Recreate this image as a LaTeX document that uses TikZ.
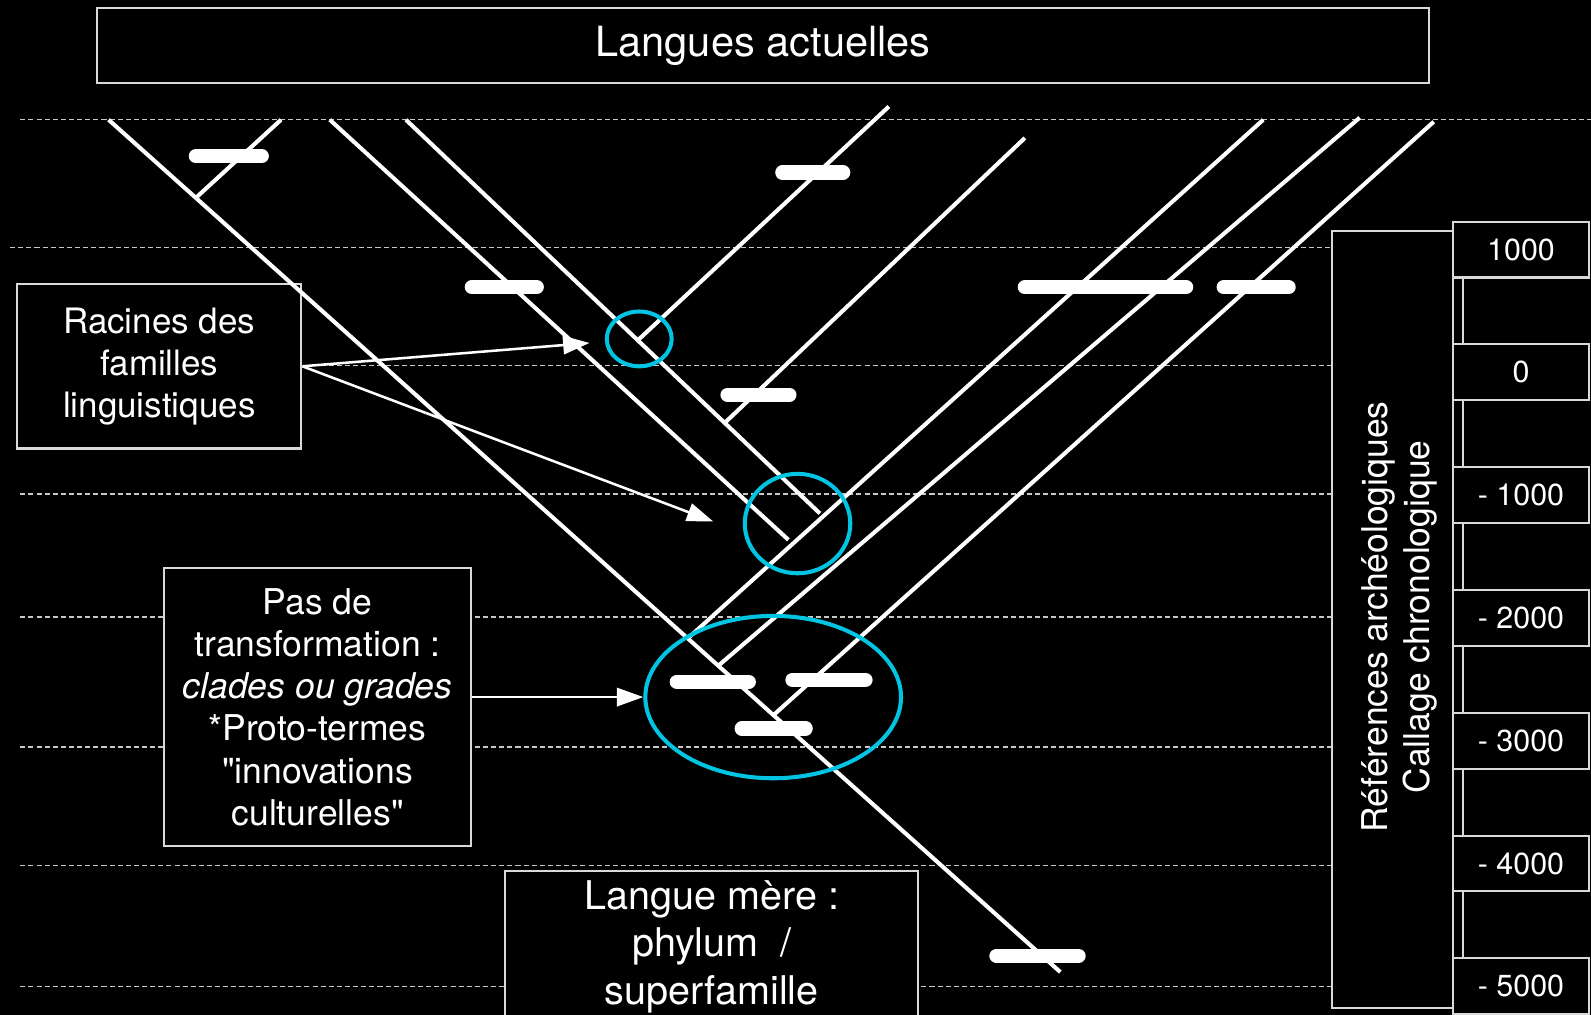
\documentclass[tikz,border=0pt]{standalone}
\usepackage{fontspec}
\setmainfont{TeX Gyre Heros}
\usetikzlibrary{arrows.meta, shapes.geometric, calc}
\definecolor{bord}{HTML}{D9D9D9}
\definecolor{grille}{HTML}{C8C8C8}
\definecolor{cercle}{HTML}{00C4E2}
\tikzset{
  % boîte de texte
  boite/.style={draw=bord, line width=2pt, fill=black, text=white, align=center, inner sep=0pt},
  % case de datation
  casedate/.style={boite, minimum width=134pt, minimum height=55pt, font=\fontsize{30}{36}\selectfont},
  % branche de l'arbre
  branche/.style={draw=white, line width=4pt},
  % barre d'innovation
  barre/.style={draw=white, line width=14pt, line cap=round},
  % repère de temps pointillé
  repere/.style={draw=grille, line width=1.5pt, dash pattern=on 5pt off 3pt},
  % mise en évidence
  cerne/.style={ellipse, draw=cercle, line width=4pt, inner sep=0pt},
  % flèche
  fleche/.style={draw=white, line width=2.5pt, -{Triangle[length=26pt, width=18pt]}},
}

\begin{document}
\begin{tikzpicture}[x=1pt, y=-1pt]
  \fill[black] (0,0) rectangle (1568,1000);
  \clip (0,0) rectangle (1568,1000);
  % repères de temps
  \draw[repere] (20,118) -- (1568,118);
  \foreach \y/\xa in {244/10, 360/20, 487/20, 608/20, 736/20, 853/20, 972/20}
    \draw[repere] (\xa,\y) -- (1313,\y);
  % boîtes
  \node[boite, minimum width=1312pt, minimum height=74pt, font=\fontsize{41}{49}\selectfont] (titre) at (752,45) {Langues actuelles};
  \node[boite, minimum width=280pt, minimum height=162pt, font=\fontsize{34.5}{41.5}\selectfont] (racines) at (157,361) {Racines des\\familles\\linguistiques};
  \node[boite, minimum width=302pt, minimum height=274pt, font=\fontsize{35}{41.5}\selectfont] (pas) at (313,697) {Pas de\\transformation :\\\textit{clades ou grades}\\*Proto-termes\\\textquotedbl innovations\\culturelles\textquotedbl};
  \node[boite, minimum width=407pt, minimum height=150pt, font=\fontsize{39}{47}\selectfont] (mere) at (701.5,933) {Langue mère :\\phylum\ \ /\\superfamille};
  % échelle chronologique
  \node[boite, minimum width=119pt, minimum height=765pt] (refs) at (1372.5,610.5) {};
  \node[text=white, rotate=90, align=center, font=\fontsize{35}{42}\selectfont] (refstxt) at (1379,608) {Références archéologiques\\Callage chronologique};
  \foreach \lab [count=\i from 0] in {1000, 0, - 1000, - 2000, - 3000, - 4000, - 5000}
    \node[casedate] (n\i) at (1499,{246+121*\i}) {\lab};
  \foreach \i [evaluate=\i as \j using int(\i+1)] in {0,...,5}
    \draw[bord, line width=2pt] ([xshift=11pt]n\i.south west) -- ([xshift=11pt]n\j.north west);
  % tronc et branches
  \coordinate (t0) at (107,118);  \coordinate (t1) at (1045,958);
  \coordinate (a0) at (193,195);  \coordinate (a1) at (277,118);
  \coordinate (b0) at (325,118);  \coordinate (b1) at (777,532);
  \coordinate (c0) at (400,118);  \coordinate (c1) at (808,506);
  \coordinate (d0) at (629,335);  \coordinate (d1) at (876,105);
  \coordinate (e0) at (714,417);  \coordinate (e1) at (1010,136);
  \coordinate (f0) at (678,629);  \coordinate (f1) at (1245,118);
  \coordinate (g0) at (708,656);  \coordinate (g1) at (1340,116);
  \coordinate (h0) at (762,705);  \coordinate (h1) at (1413,120);
  \foreach \p in {t, a, b, c, d, e, f, g, h}
    \draw[branche] (\p0) -- (\p1);
  % innovations
  \foreach \xa/\xb/\y in {193/258/154, 465/529/283, 771/831/170, 717/778/389,
      1010/1169/283, 1206/1270/283, 667/738/672, 781/853/670, 731/794/718, 982/1063/942}
    \draw[barre] (\xa,\y) -- (\xb,\y);
  % racines et clades
  \node[cerne, minimum width=64pt, minimum height=54pt] (ell1) at (630,334) {};
  \node[cerne, minimum width=104pt, minimum height=98pt] (ell2) at (786,516) {};
  \node[cerne, minimum width=252pt, minimum height=160pt] (ell3) at (762,687) {};
  \coordinate (p1) at (581,338);
  \coordinate (p2) at (703,514);
  \draw[fleche] (racines.east) -- (p1);
  \draw[fleche] (racines.east) -- (p2);
  \draw[fleche] (pas.east |- ell3.west) -- (ell3.west);
\end{tikzpicture}
\end{document}
